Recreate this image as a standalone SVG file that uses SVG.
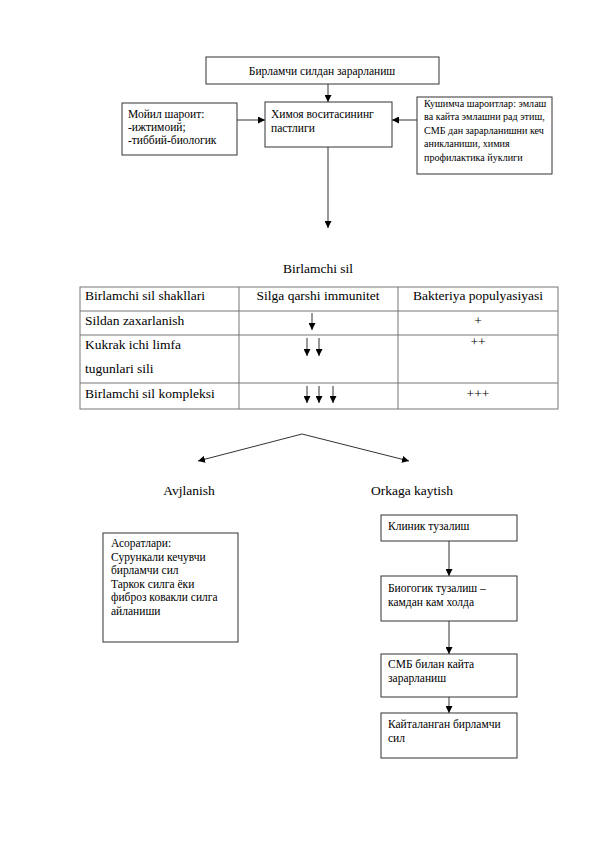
<svg xmlns="http://www.w3.org/2000/svg" width="596" height="842" viewBox="0 0 596 842">
<defs>
<marker id="ah" viewBox="0 0 10 10" refX="10" refY="5" markerWidth="7" markerHeight="7" markerUnits="userSpaceOnUse" orient="auto">
<path d="M0,0 L10,5 L0,10 z" fill="#000"/>
</marker>
</defs>
<style>
.box{fill:#fff;stroke:#333;stroke-width:1}
.t{font-family:"Liberation Serif","Times New Roman",serif;font-size:11.5px;fill:#000}
.ts{font-family:"Liberation Serif","Times New Roman",serif;font-size:10.1px;fill:#000}
.tt{font-family:"Liberation Serif","Times New Roman",serif;font-size:13.5px;fill:#000}
.c{text-anchor:middle}
.ln{stroke:#333;stroke-width:1;fill:none}
.tb{stroke:#777;stroke-width:1;fill:none}
</style>
<rect width="596" height="842" fill="#fff"/>

<g id="connectors">
<line class="ln" x1="328" y1="84" x2="328" y2="102" marker-end="url(#ah)"/>
<line class="ln" x1="237" y1="120" x2="265" y2="120" marker-end="url(#ah)"/>
<line class="ln" x1="417" y1="120" x2="392" y2="120" marker-end="url(#ah)"/>
<line class="ln" x1="328" y1="147" x2="328" y2="228" marker-end="url(#ah)"/>
<line class="ln" x1="302" y1="434" x2="198" y2="461" marker-end="url(#ah)"/>
<line class="ln" x1="302" y1="434" x2="409" y2="461" marker-end="url(#ah)"/>
<line class="ln" x1="449" y1="541" x2="449" y2="576" marker-end="url(#ah)"/>
<line class="ln" x1="449" y1="621" x2="449" y2="654" marker-end="url(#ah)"/>
<line class="ln" x1="449" y1="697" x2="449" y2="713" marker-end="url(#ah)"/>
</g>

<g id="n-top">
<rect class="box" x="206" y="57" width="233" height="27"/>
<text class="t c" x="322" y="75">Бирламчи силдан зарарланиш</text>
</g>
<g id="n-left">
<rect class="box" x="122" y="103" width="115" height="52"/>
<text class="t" x="128" y="118">Мойил шароит:</text>
<text class="t" x="128" y="131">-ижтимоий;</text>
<text class="t" x="128" y="144">-тиббий-биологик</text>
</g>
<g id="n-center">
<rect class="box" x="265" y="102" width="127" height="45"/>
<text class="t" x="271" y="118">Химоя воситасининг</text>
<text class="t" x="271" y="132">пастлиги</text>
</g>
<g id="n-right">
<rect class="box" x="417" y="97" width="135" height="77"/>
<text class="ts" x="424" y="107">Кушимча шароитлар: эмлаш</text>
<text class="ts" x="424" y="120">ва кайта эмлашни рад этиш,</text>
<text class="ts" x="424" y="134">СМБ дан зарарланишни кеч</text>
<text class="ts" x="424" y="147">аникланиши, химия</text>
<text class="ts" x="424" y="161">профилактика йуклиги</text>
</g>

<g id="table">
<text class="tt c" x="318" y="273">Birlamchi sil</text>
<rect class="tb" x="80" y="287" width="478" height="122"/>
<line class="tb" x1="80" y1="311" x2="558" y2="311"/>
<line class="tb" x1="80" y1="335" x2="558" y2="335"/>
<line class="tb" x1="80" y1="383" x2="558" y2="383"/>
<line class="tb" x1="239" y1="287" x2="239" y2="409"/>
<line class="tb" x1="398" y1="287" x2="398" y2="409"/>
<text class="tt" x="85" y="300">Birlamchi sil shakllari</text>
<text class="tt c" x="318" y="300">Silga qarshi immunitet</text>
<text class="tt c" x="478" y="300">Bakteriya populyasiyasi</text>
<text class="tt" x="85" y="325">Sildan zaxarlanish</text>
<text class="tt c" x="478" y="325">+</text>
<text class="tt" x="85" y="349">Kukrak ichi limfa</text>
<text class="tt" x="85" y="373">tugunlari sili</text>
<text class="tt c" x="478" y="346">++</text>
<text class="tt" x="85" y="398">Birlamchi sil kompleksi</text>
<text class="tt c" x="478" y="398">+++</text>
<line class="ln" x1="312" y1="313" x2="312" y2="330" marker-end="url(#ah)"/>
<line class="ln" x1="307" y1="338" x2="307" y2="356" marker-end="url(#ah)"/>
<line class="ln" x1="319" y1="338" x2="319" y2="356" marker-end="url(#ah)"/>
<line class="ln" x1="307" y1="386" x2="307" y2="403" marker-end="url(#ah)"/>
<line class="ln" x1="319" y1="386" x2="319" y2="403" marker-end="url(#ah)"/>
<line class="ln" x1="333" y1="386" x2="333" y2="403" marker-end="url(#ah)"/>
</g>

<g id="n-avj">
<text class="tt c" x="189" y="495">Avjlanish</text>
</g>
<g id="n-ork">
<text class="tt c" x="412" y="495">Orkaga kaytish</text>
</g>
<g id="n-asor">
<rect class="box" x="103" y="533" width="135" height="109"/>
<text class="t" x="111" y="547">Асоратлари:</text>
<text class="t" x="111" y="561">Сурункали кечувчи</text>
<text class="t" x="111" y="574">бирламчи сил</text>
<text class="t" x="111" y="588">Таркок силга ёки</text>
<text class="t" x="111" y="601">фиброз ковакли силга</text>
<text class="t" x="111" y="615">айланиши</text>
</g>
<g id="n-klinik">
<rect class="box" x="381" y="515" width="136" height="26"/>
<text class="t" x="388" y="530">Клиник тузалиш</text>
</g>
<g id="n-bio">
<rect class="box" x="381" y="576" width="136" height="45"/>
<text class="t" x="388" y="592">Биогогик тузалиш –</text>
<text class="t" x="388" y="606">камдан кам холда</text>
</g>
<g id="n-smb">
<rect class="box" x="381" y="654" width="136" height="43"/>
<text class="t" x="388" y="668">СМБ билан кайта</text>
<text class="t" x="388" y="682">зарарланиш</text>
</g>
<g id="n-kayt">
<rect class="box" x="381" y="713" width="136" height="45"/>
<text class="t" x="388" y="728">Кайталанган бирламчи</text>
<text class="t" x="388" y="742">сил</text>
</g>
</svg>
